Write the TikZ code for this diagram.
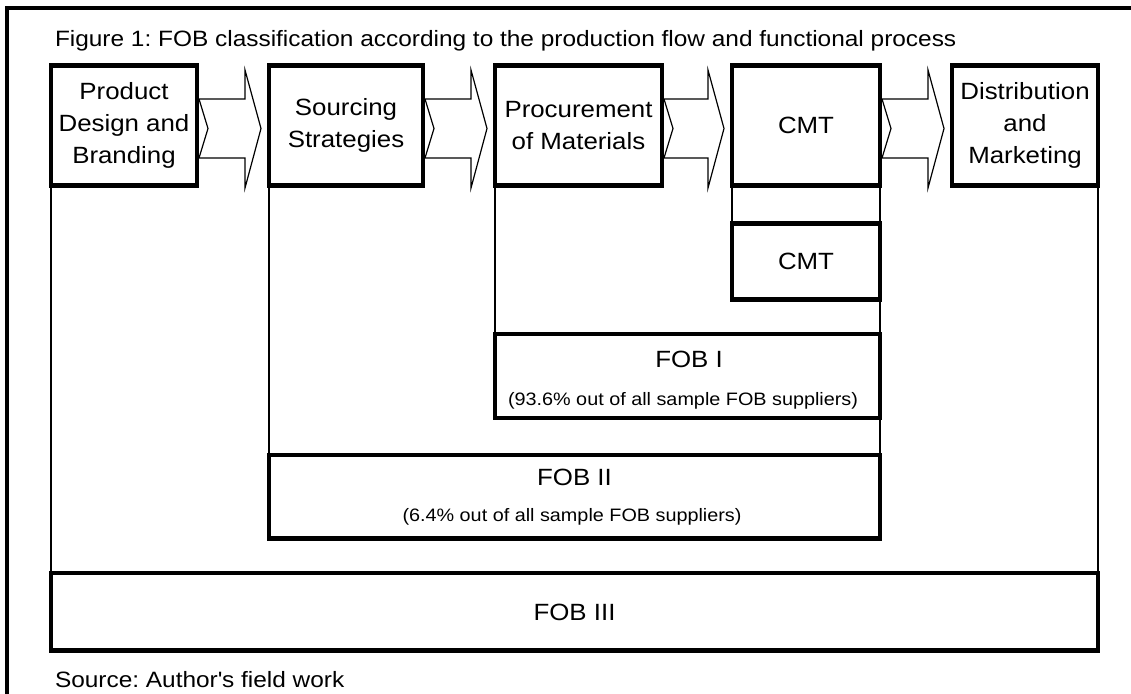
\documentclass[tikz,border=0pt]{standalone}
\usepackage{fontspec}
\setmainfont{Liberation Sans}[FakeStretch=1.1]
\usetikzlibrary{calc}
\frenchspacing
\newcommand\lblfont{\fontsize{23.5}{32}\selectfont}
\newcommand\subfont{\fontsize{18}{22}\selectfont}
\newcommand\ttlfont{\fontsize{22.2}{26}\selectfont}
\newcommand\flowarr[2]{%
  \draw[arr] ($(#1.east|-0,99)+(2,0)$) -- ($(#2.west|-0,99)+(-24,0)$)
    -- ($(#2.west|-0,70)+(-24,0)$) -- ($(#2.west|-0,128.5)+(-8,0)$)
    -- ($(#2.west|-0,188)+(-24,0)$) -- ($(#2.west|-0,158)+(-24,0)$)
    -- ($(#1.east|-0,158)+(2,0)$) -- ($(#1.east|-0,128.5)+(11,0)$) -- cycle;}
\tikzset{
  box/.style={draw, line width=4.5pt, inner sep=0pt, outer sep=0pt, align=center, font=\lblfont},
  topbox/.style={box, minimum height=120pt},
  conn/.style={draw, line width=2.2pt},
  arr/.style={draw, line width=1.2pt, line join=miter},
  txt/.style={inner sep=0pt, outer sep=0pt},
}
\begin{document}
\begin{tikzpicture}[x=1pt, y=-1pt]
\useasboundingbox (0,0) rectangle (1131,693);
\clip (0,0) rectangle (1131,693);
\fill[white] (0,0) rectangle (1131,693);
% outer frame
\draw[line width=3.5pt] (7,705) -- (7,8) -- (1145,8);
% title
\node[txt, anchor=base west, font=\ttlfont] (title) at (55,46)
  {Figure 1: FOB classification according to the production flow and functional process};
% top row boxes
\node[topbox, minimum width=146pt] (b1) at (124,125.5) {Product\\Design and\\Branding};
\node[topbox, minimum width=154pt] (b2) at (346,125.5) {Sourcing\\Strategies};
\node[topbox, minimum width=167pt] (b3) at (578.5,125.5) {Procurement\\of Materials};
\node[topbox, minimum width=148pt] (b4) at (806,125.5) {CMT};
\node[topbox, minimum width=146pt] (b5) at (1025,125.5) {Distribution\\and\\Marketing};
% second CMT
\node[box, minimum width=148pt, minimum height=76pt] (c2) at (806,261.5) {CMT};
% FOB boxes
\node[box, minimum width=385pt, minimum height=84pt] (f1) at (687.5,376) {};
\node[box, minimum width=611pt, minimum height=83.5pt] (f2) at (574.5,496.75) {};
\node[box, minimum width=1047pt, minimum height=77.5pt] (f3) at (574.5,611.75) {};
\node[txt, anchor=base, font=\lblfont] (f1l) at (689,367) {FOB I};
\node[txt, anchor=base, font=\subfont] (f1s) at (683,405) {(93.6\% out of all sample FOB suppliers)};
\node[txt, anchor=base, font=\lblfont] (f2l) at (574.5,485) {FOB II};
\node[txt, anchor=base, font=\subfont] (f2s) at (572,521) {(6.4\% out of all sample FOB suppliers)};
\node[txt, anchor=base, font=\lblfont] (f3l) at (574.5,620) {FOB III};
% connectors
\draw[conn] (b1.south west) -- (b1.south west |- f3.north);
\draw[conn] (b5.south east) -- (b5.south east |- f3.north);
\draw[conn] (b2.south west) -- (b2.south west |- f2.north);
\draw[conn] (b4.south east) -- (b4.south east |- f2.north);
\draw[conn] (b4.south west) -- (c2.north west);
\draw[conn] (b3.south west) -- (b3.south west |- f1.north);
% flow arrows
\flowarr{b1}{b2}
\flowarr{b2}{b3}
\flowarr{b3}{b4}
\flowarr{b4}{b5}
% source
\node[txt, anchor=base west, font=\ttlfont] (src) at (55,687) {Source: Author\textquotesingle s field work};
\end{tikzpicture}
\end{document}
